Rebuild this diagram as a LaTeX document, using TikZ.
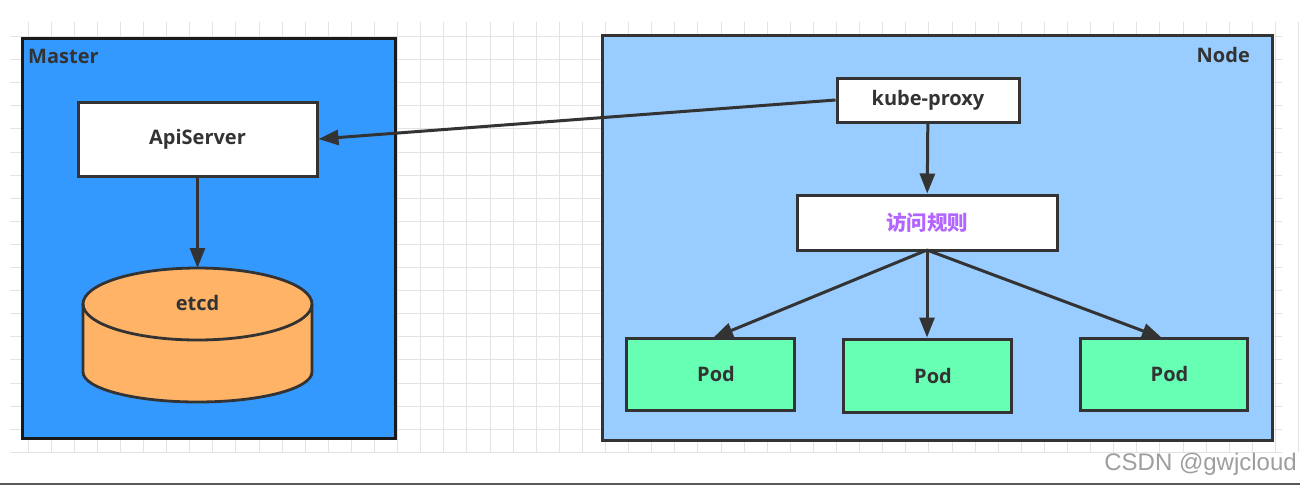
\documentclass[tikz,border=0pt]{standalone}
\usepackage{fontspec}
\setmainfont{Open Sans}
\newfontfamily\cjk{Noto Sans CJK SC}
\newfontfamily\wmfont{Liberation Sans}
\usetikzlibrary{arrows.meta}
\definecolor{masterblue}{HTML}{3399FF}
\definecolor{nodeblue}{HTML}{99CCFF}
\definecolor{podgreen}{HTML}{66FFB3}
\definecolor{etcdorange}{HTML}{FFB366}
\definecolor{ink}{HTML}{333333}
\definecolor{rulepurple}{HTML}{B266FF}
\definecolor{gridc}{HTML}{E3E3E3}
\tikzset{
  box/.style={draw=ink, line width=3pt, fill=white, font=\bfseries\fontsize{20}{24}\selectfont, text=ink, inner sep=0pt},
  podbox/.style={box, fill=podgreen},
  conn/.style={draw=ink, line width=3pt, -{Triangle[length=20pt,width=15pt]}},
  lbl/.style={font=\bfseries\fontsize{20}{24}\selectfont, text=ink, inner sep=0pt}
}
\begin{document}
\begin{tikzpicture}[x=1pt,y=-1pt]
\useasboundingbox (0,0) rectangle (1300,485);
\fill[white] (0,0) rectangle (1300,485);
% grid
\foreach \i in {0,...,55} {
  \draw[gridc, line width=1pt] ({28+23.1*\i},22) -- ({28+23.1*\i},452);
}
\foreach \j in {0,...,18} {
  \draw[gridc, line width=1pt] (10,{36.5+23.1*\j}) -- (1282,{36.5+23.1*\j});
}
\fill[gray!70!black] (0,482.5) rectangle (1300,485);
% Master
\draw[draw=black!90, line width=3pt, fill=masterblue] (22,38) rectangle (395,438);
\node[lbl, anchor=west] (masterlbl) at (28,56) {Master};
\node[box, minimum width=239pt, minimum height=74pt] (api) at (197.5,139) {ApiServer};
% etcd cylinder
\coordinate (etcdtop) at (197.5,268);
\draw[draw=ink, line width=2.8pt, fill=etcdorange]
  (83,304) -- (83,372) arc[start angle=180, end angle=360, x radius=114.5pt, y radius=30pt]
  -- (312,304) arc[start angle=0, end angle=180, x radius=114.5pt, y radius=36pt] -- cycle;
\draw[draw=ink, line width=2.8pt] (83,304) arc[start angle=180, end angle=360, x radius=114.5pt, y radius=36pt];
\node[lbl] (etcd) at (197.5,303) {etcd};
\draw[conn] (api) -- (etcdtop);
% Node
\draw[draw=ink, line width=3pt, fill=nodeblue] (602,35) rectangle (1272,440);
\node[lbl, anchor=east] (nodelbl) at (1250,55) {Node};
\node[box, minimum width=182pt, minimum height=44pt] (kp) at (928,100) {kube-proxy};
\node[box, minimum width=260pt, minimum height=55pt, font=\cjk\bfseries\fontsize{20.5}{24}\selectfont, text=rulepurple] (rule) at (927,222.5) {访问规则};
\node[podbox, minimum width=168pt, minimum height=72pt] (pod1) at (710,374) {\hspace{12pt}Pod};
\node[podbox, minimum width=168pt, minimum height=73pt] (pod2) at (927,375.5) {\hspace{12pt}Pod};
\node[podbox, minimum width=167pt, minimum height=72pt] (pod3) at (1163.5,374) {\hspace{12pt}Pod};
\coordinate (rb) at (927,250);
\draw[conn] (kp) -- (rule);
\draw[conn] (rb) -- (713,338);
\draw[conn] (rb) -- (pod2);
\draw[conn] (rb) -- (1162,338);
\draw[conn] (kp.west) -- (api.east);
% watermark
\node[font=\wmfont\fontsize{24}{27}\selectfont, text=black!38, anchor=east, inner sep=0pt] (wm) at (1297,464) {CSDN @gwjcloud};
\end{tikzpicture}
\end{document}
